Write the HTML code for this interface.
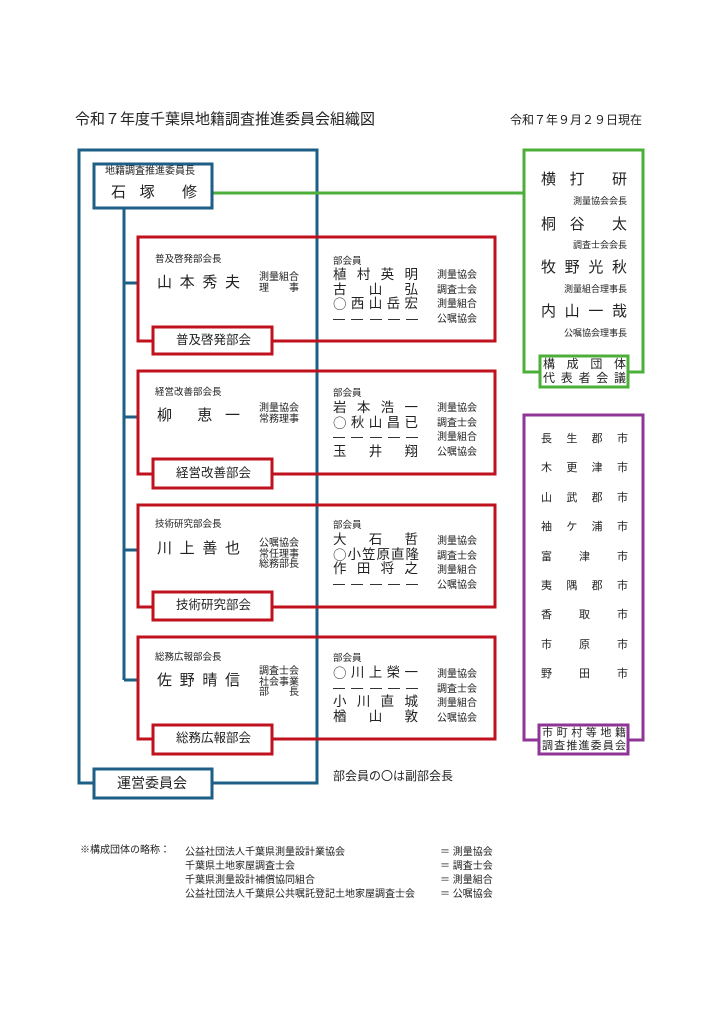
<!DOCTYPE html>
<html><head><meta charset="utf-8">
<style>
body{margin:0;background:#fff;}
#c{position:relative;width:724px;height:1024px;overflow:hidden;font-family:"Liberation Sans","Noto Sans CJK JP",sans-serif;color:#222;}
.t{position:absolute;white-space:nowrap;line-height:1;}
.row{position:absolute;display:flex;justify-content:space-between;align-items:center;line-height:1;font-size:13.5px;}
.o{font-family:"Noto Sans CJK JP",sans-serif;}
.d{display:inline-block;width:12px;height:0;border-top:1.2px solid #333;}
svg{position:absolute;left:0;top:0;}
</style></head><body><div id="c">
<svg width="724" height="1024" fill="none" stroke-width="3">
 <g stroke="#1d5f86">
  <rect x="79" y="150" width="238" height="633"/>
  <line x1="124" y1="208" x2="124" y2="680"/>
  <line x1="124" y1="283" x2="138" y2="283"/>
  <line x1="124" y1="417" x2="138" y2="417"/>
  <line x1="124" y1="550" x2="138" y2="550"/>
  <line x1="124" y1="680" x2="138" y2="680"/>
 </g>
 <line x1="212" y1="193" x2="524" y2="193" stroke="#4caf3a"/>
 <g stroke="#c0121e">
  <rect x="138" y="237" width="357" height="104"/>
  <rect x="138" y="371" width="357" height="103"/>
  <rect x="138" y="505" width="357" height="102"/>
  <rect x="138" y="637" width="357" height="102"/>
  <rect x="153" y="327" width="119" height="27" fill="#fff"/>
  <rect x="153" y="459" width="119" height="29" fill="#fff"/>
  <rect x="153" y="592" width="119" height="28" fill="#fff"/>
  <rect x="153" y="725" width="119" height="29" fill="#fff"/>
 </g>
 <g stroke="#1d5f86">
  <rect x="94" y="164" width="118" height="44" fill="#fff"/>
  <rect x="94" y="769" width="118" height="29" fill="#fff"/>
 </g>
 <g stroke="#4caf3a">
  <rect x="524" y="150" width="119" height="222"/>
  <rect x="540" y="356" width="88" height="31" fill="#fff"/>
 </g>
 <g stroke="#8e3595">
  <rect x="524" y="415" width="119" height="325"/>
  <rect x="539" y="725" width="89" height="29" fill="#fff"/>
 </g>
</svg>

<div class="t" style="left:75px;top:112px;font-size:15px;">令和７年度千葉県地籍調査推進委員会組織図</div>
<div class="t" style="left:510px;top:114px;font-size:12px;">令和７年９月２９日現在</div>

<div class="t" style="left:105px;top:167px;font-size:10px;">地籍調査推進委員長</div>
<div class="row" style="left:111px;top:185px;width:86px;font-size:15px;"><span>石</span><span>塚</span><span></span><span>修</span></div>
<div class="t" style="left:117px;top:776px;font-size:14px;">運営委員会</div>
<div class="t" style="left:333px;top:770px;font-size:12px;">部会員の〇は副部会長</div>

<!-- box1 -->
<div class="t" style="left:155px;top:255px;font-size:9.5px;">普及啓発部会長</div>
<div class="row" style="left:157px;top:275px;width:83px;font-size:15px;"><span>山</span><span>本</span><span>秀</span><span>夫</span></div>
<div class="t" style="left:259px;top:272px;font-size:10px;line-height:11px;">測量組合<br>理　　事</div>
<div class="t" style="left:333px;top:257px;font-size:9.5px;">部会員</div>
<div class="row" style="left:333px;top:268px;width:85px;"><span>植</span><span>村</span><span>英</span><span>明</span></div>
<div class="row" style="left:333px;top:283px;width:85px;"><span>古</span><span></span><span>山</span><span></span><span>弘</span></div>
<div class="row" style="left:333px;top:297px;width:85px;"><span class="o">○</span><span>西</span><span>山</span><span>岳</span><span>宏</span></div>
<div class="row" style="left:333px;top:312px;width:85px;height:14px;"><span class="d"></span><span class="d"></span><span class="d"></span><span class="d"></span><span class="d"></span></div>
<div class="t" style="left:437px;top:269px;font-size:10px;line-height:14.7px;">測量協会<br>調査士会<br>測量組合<br>公嘱協会</div>
<div class="t" style="left:176px;top:334px;font-size:12.5px;">普及啓発部会</div>

<!-- box2 -->
<div class="t" style="left:155px;top:388px;font-size:9.5px;">経営改善部会長</div>
<div class="row" style="left:157px;top:408px;width:83px;font-size:15px;"><span>柳</span><span></span><span>恵</span><span>一</span></div>
<div class="t" style="left:259px;top:403px;font-size:10px;line-height:11px;">測量協会<br>常務理事</div>
<div class="t" style="left:333px;top:389px;font-size:9.5px;">部会員</div>
<div class="row" style="left:333px;top:401px;width:85px;"><span>岩</span><span>本</span><span>浩</span><span>一</span></div>
<div class="row" style="left:333px;top:416px;width:85px;"><span class="o">○</span><span>秋</span><span>山</span><span>昌</span><span>已</span></div>
<div class="row" style="left:333px;top:430px;width:85px;height:14px;"><span class="d"></span><span class="d"></span><span class="d"></span><span class="d"></span><span class="d"></span></div>
<div class="row" style="left:333px;top:445px;width:85px;"><span>玉</span><span></span><span>井</span><span></span><span>翔</span></div>
<div class="t" style="left:437px;top:402px;font-size:10px;line-height:14.7px;">測量協会<br>調査士会<br>測量組合<br>公嘱協会</div>
<div class="t" style="left:176px;top:467px;font-size:12.5px;">経営改善部会</div>

<!-- box3 -->
<div class="t" style="left:155px;top:520px;font-size:9.5px;">技術研究部会長</div>
<div class="row" style="left:157px;top:541px;width:83px;font-size:15px;"><span>川</span><span>上</span><span>善</span><span>也</span></div>
<div class="t" style="left:259px;top:539px;font-size:10px;line-height:10.5px;">公嘱協会<br>常任理事<br>総務部長</div>
<div class="t" style="left:333px;top:521px;font-size:9.5px;">部会員</div>
<div class="row" style="left:333px;top:533px;width:85px;"><span>大</span><span></span><span>石</span><span></span><span>哲</span></div>
<div class="row" style="left:333px;top:548px;width:85px;letter-spacing:-1px;"><span class="o">○</span><span>小</span><span>笠</span><span>原</span><span>直</span><span>隆</span></div>
<div class="row" style="left:333px;top:562px;width:85px;"><span>作</span><span>田</span><span>将</span><span>之</span></div>
<div class="row" style="left:333px;top:577px;width:85px;height:14px;"><span class="d"></span><span class="d"></span><span class="d"></span><span class="d"></span><span class="d"></span></div>
<div class="t" style="left:437px;top:535px;font-size:10px;line-height:14.7px;">測量協会<br>調査士会<br>測量組合<br>公嘱協会</div>
<div class="t" style="left:176px;top:599px;font-size:12.5px;">技術研究部会</div>

<!-- box4 -->
<div class="t" style="left:155px;top:653px;font-size:9.5px;">総務広報部会長</div>
<div class="row" style="left:157px;top:673px;width:83px;font-size:15px;"><span>佐</span><span>野</span><span>晴</span><span>信</span></div>
<div class="t" style="left:259px;top:667px;font-size:10px;line-height:10.5px;">調査士会<br>社会事業<br>部　　長</div>
<div class="t" style="left:333px;top:654px;font-size:9.5px;">部会員</div>
<div class="row" style="left:333px;top:666px;width:85px;"><span class="o">○</span><span>川</span><span>上</span><span>榮</span><span>一</span></div>
<div class="row" style="left:333px;top:681px;width:85px;height:14px;"><span class="d"></span><span class="d"></span><span class="d"></span><span class="d"></span><span class="d"></span></div>
<div class="row" style="left:333px;top:695px;width:85px;"><span>小</span><span>川</span><span>直</span><span>城</span></div>
<div class="row" style="left:333px;top:710px;width:85px;"><span>楢</span><span></span><span>山</span><span></span><span>敦</span></div>
<div class="t" style="left:437px;top:668px;font-size:10px;line-height:14.7px;">測量協会<br>調査士会<br>測量組合<br>公嘱協会</div>
<div class="t" style="left:176px;top:732px;font-size:12.5px;">総務広報部会</div>

<!-- green -->
<div class="row" style="left:541px;top:172px;width:86px;font-size:15px;"><span>横</span><span>打</span><span></span><span>研</span></div>
<div class="t" style="left:557px;top:197px;font-size:9px;width:70px;text-align:right;">測量協会会長</div>
<div class="row" style="left:541px;top:217px;width:86px;font-size:15px;"><span>桐</span><span>谷</span><span></span><span>太</span></div>
<div class="t" style="left:557px;top:241px;font-size:9px;width:70px;text-align:right;">調査士会会長</div>
<div class="row" style="left:541px;top:260px;width:86px;font-size:15px;"><span>牧</span><span>野</span><span>光</span><span>秋</span></div>
<div class="t" style="left:547px;top:285px;font-size:9px;width:80px;text-align:right;">測量組合理事長</div>
<div class="row" style="left:541px;top:304px;width:86px;font-size:15px;"><span>内</span><span>山</span><span>一</span><span>哉</span></div>
<div class="t" style="left:547px;top:329px;font-size:9px;width:80px;text-align:right;">公嘱協会理事長</div>
<div class="row" style="left:543px;top:358px;width:83px;font-size:12px;"><span>構</span><span>成</span><span>団</span><span>体</span></div>
<div class="row" style="left:543px;top:372px;width:83px;font-size:12px;"><span>代</span><span>表</span><span>者</span><span>会</span><span>議</span></div>

<!-- purple -->
<div style="position:absolute;left:541px;top:425px;width:87px;font-size:11px;line-height:29.4px;">
<div style="display:flex;justify-content:space-between"><span>長</span><span>生</span><span>郡</span><span>市</span></div>
<div style="display:flex;justify-content:space-between"><span>木</span><span>更</span><span>津</span><span>市</span></div>
<div style="display:flex;justify-content:space-between"><span>山</span><span>武</span><span>郡</span><span>市</span></div>
<div style="display:flex;justify-content:space-between"><span>袖</span><span>ケ</span><span>浦</span><span>市</span></div>
<div style="display:flex;justify-content:space-between"><span>富</span><span>津</span><span>市</span></div>
<div style="display:flex;justify-content:space-between"><span>夷</span><span>隅</span><span>郡</span><span>市</span></div>
<div style="display:flex;justify-content:space-between"><span>香</span><span>取</span><span>市</span></div>
<div style="display:flex;justify-content:space-between"><span>市</span><span>原</span><span>市</span></div>
<div style="display:flex;justify-content:space-between"><span>野</span><span>田</span><span>市</span></div>
</div>
<div class="row" style="left:542px;top:728px;width:84px;font-size:11px;"><span>市</span><span>町</span><span>村</span><span>等</span><span>地</span><span>籍</span></div>
<div class="row" style="left:542px;top:741px;width:84px;font-size:11px;"><span>調</span><span>査</span><span>推</span><span>進</span><span>委</span><span>員</span><span>会</span></div>

<!-- footnote -->
<div class="t" style="left:80px;top:846px;font-size:10px;">※構成団体の略称：</div>
<div class="t" style="left:185px;top:846px;font-size:10px;line-height:14px;">公益社団法人千葉県測量設計業協会<br>千葉県土地家屋調査士会<br>千葉県測量設計補償協同組合<br>公益社団法人千葉県公共嘱託登記土地家屋調査士会</div>
<div class="t" style="left:440px;top:846px;font-size:10px;line-height:14px;">＝ 測量協会<br>＝ 調査士会<br>＝ 測量組合<br>＝ 公嘱協会</div>
</div></body></html>
